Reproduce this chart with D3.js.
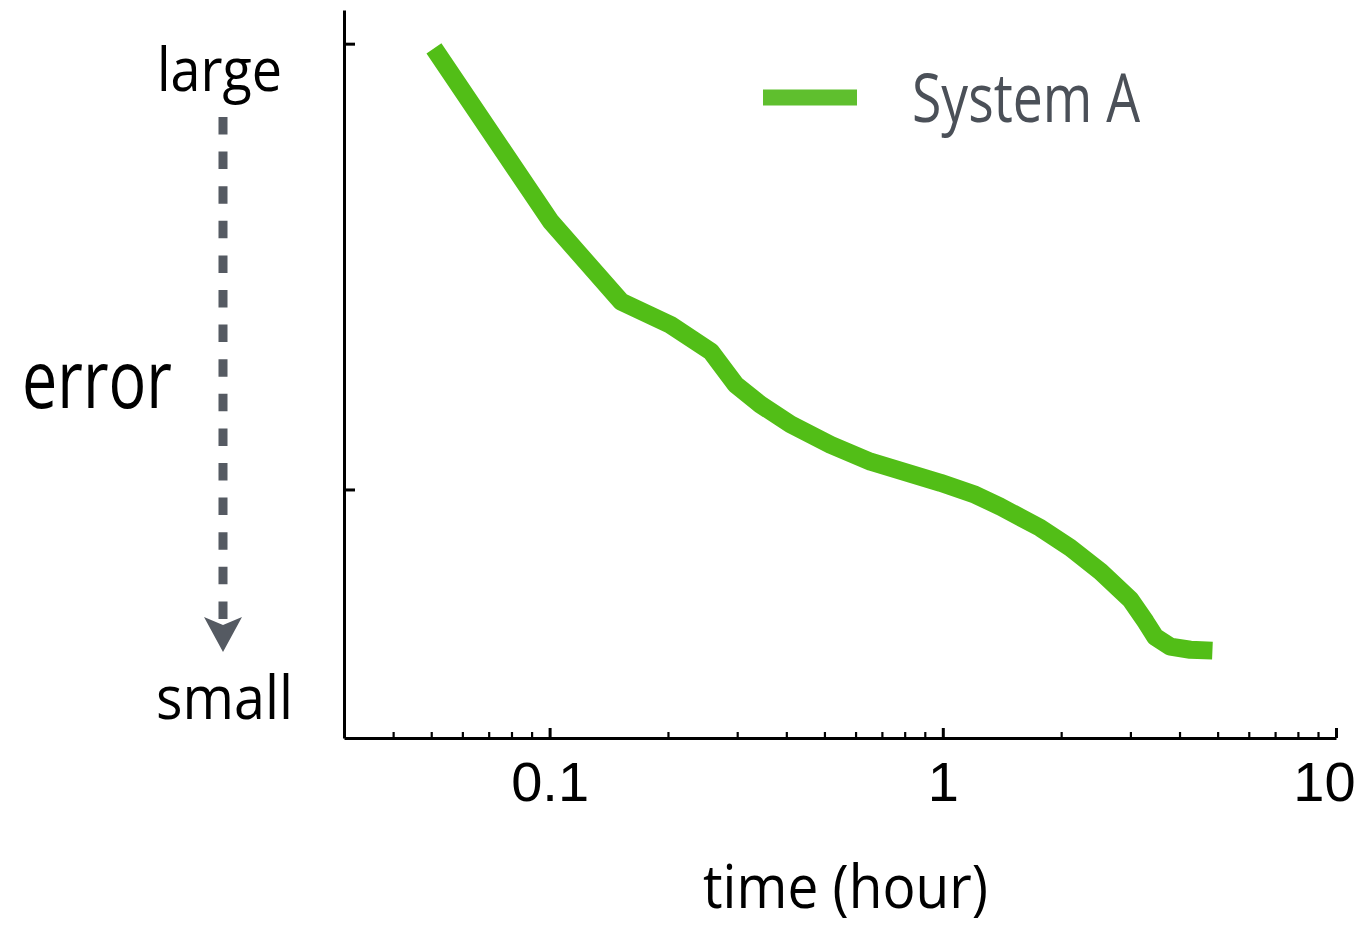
<!DOCTYPE html>
<html>
<head>
<meta charset="utf-8">
<script src="https://cdn.jsdelivr.net/npm/d3@7"></script>
<style>
    html, body { margin: 0; padding: 0; background: #fff; }
    svg { display: block; }
</style>
</head>
<body>
<div id="chart-container"></div>
<script>
// Data (time in hours, error on log scale)
const times = [0.0508, 0.1007, 0.152, 0.203, 0.257, 0.297, 0.344, 0.41, 0.518, 0.655, 0.987, 1.21, 1.40, 1.77, 2.11, 2.52, 3.00, 3.28, 3.47, 3.79, 4.26, 4.85];
const errors = [0.976, 0.399, 0.264, 0.234, 0.204, 0.172, 0.155, 0.140, 0.126, 0.1154, 0.1035, 0.0973, 0.0915, 0.082, 0.074, 0.0654, 0.0566, 0.0505, 0.0467, 0.0444, 0.0437, 0.0435];
const seriesName = "System A";
const xMajorTicks = [0.1, 1, 10];
const xTickLabels = ["0.1", "1", "10"];
const xMinorTicks = [0.04, 0.05, 0.06, 0.07, 0.08, 0.09, 0.2, 0.3, 0.4, 0.5, 0.6, 0.7, 0.8, 0.9, 2, 3, 4, 5, 6, 7, 8, 9];
const yTicks = [0.1, 1];

function drawChart() {
    const width = 1363;
    const height = 929;

    const svg = d3.select("#chart-container")
        .append("svg")
        .attr("width", width)
        .attr("height", height);

    // Scales - both log
    const x = d3.scaleLog().domain([0.03, 10]).range([344, 1336]);
    const y = d3.scaleLog().domain([0.0277, 1.19]).range([738, 10]);

    // Y axis: ticks pointing inward, no labels
    const yAxis = svg.append("g")
        .attr("transform", "translate(344,0)")
        .call(d3.axisRight(y).tickValues(yTicks).tickSize(11).tickSizeOuter(0).tickFormat(""));
    yAxis.selectAll("path, line").attr("stroke", "#000").attr("stroke-width", 3);

    // X axis minor ticks
    const xMinor = svg.append("g")
        .attr("transform", "translate(0,738)")
        .call(d3.axisBottom(x).tickValues(xMinorTicks).tickSizeInner(-6).tickSizeOuter(0).tickFormat(""));
    xMinor.selectAll("line").attr("stroke", "#000").attr("stroke-width", 2.2);
    xMinor.select(".domain").remove();

    // X axis major ticks + labels
    const xAxis = svg.append("g")
        .attr("transform", "translate(0,738)")
        .call(d3.axisBottom(x)
            .tickValues(xMajorTicks)
            .tickSizeInner(-10)
            .tickSizeOuter(0)
            .tickPadding(23)
            .tickFormat((d, i) => xTickLabels[i]));
    xAxis.selectAll("path, line").attr("stroke", "#000").attr("stroke-width", 3);
    xAxis.selectAll("text")
        .attr("fill", "#000")
        .style("font-family", "'Liberation Sans', Arial, sans-serif")
        .style("font-size", "56px");
    // last label is pulled in so it stays inside the picture
    xAxis.selectAll("text").filter((d, i) => i === xMajorTicks.length - 1)
        .attr("dx", -12);

    // The data line
    const line = d3.line()
        .x((d, i) => x(times[i]))
        .y(d => y(d))
        .curve(d3.curveLinear);

    svg.append("path")
        .datum(errors)
        .attr("d", line)
        .attr("fill", "none")
        .attr("stroke", "#52be17")
        .attr("stroke-width", 18)
        .attr("stroke-linejoin", "round")
        .attr("stroke-linecap", "butt");

    // Legend
    svg.append("line")
        .attr("x1", 763).attr("x2", 857)
        .attr("y1", 97.5).attr("y2", 97.5)
        .attr("stroke", "#5fbf2e")
        .attr("stroke-width", 16);

    svg.append("text")
        .attr("x", 912)
        .attr("y", 122)
        .attr("textLength", 228)
        .attr("lengthAdjust", "spacingAndGlyphs")
        .style("font-family", "'Open Sans', sans-serif")
        .style("font-size", "68px")
        .attr("fill", "#4b5058")
        .text(seriesName);

    // Left-side annotation: large -> small arrow
    const labelFont = "'Open Sans', sans-serif";
    svg.append("text")
        .attr("x", 157).attr("y", 91)
        .attr("textLength", 125).attr("lengthAdjust", "spacingAndGlyphs")
        .style("font-family", labelFont).style("font-size", "60px")
        .text("large");

    svg.append("text")
        .attr("x", 156).attr("y", 719)
        .attr("textLength", 137).attr("lengthAdjust", "spacingAndGlyphs")
        .style("font-family", labelFont).style("font-size", "60px")
        .text("small");

    svg.append("text")
        .attr("x", 22).attr("y", 408)
        .attr("textLength", 150).attr("lengthAdjust", "spacingAndGlyphs")
        .style("font-family", labelFont).style("font-size", "80px")
        .text("error");

    const arrowColor = "#555a62";
    svg.append("line")
        .attr("x1", 223).attr("x2", 223)
        .attr("y1", 117).attr("y2", 624)
        .attr("stroke", arrowColor)
        .attr("stroke-width", 9)
        .attr("stroke-dasharray", "17.5 17.1");

    svg.append("path")
        .attr("d", "M223,652 L204,617 L223,625 L242,617 Z")
        .attr("fill", arrowColor);

    // X axis title
    svg.append("text")
        .attr("x", 703).attr("y", 908)
        .attr("textLength", 285).attr("lengthAdjust", "spacingAndGlyphs")
        .style("font-family", labelFont).style("font-size", "60px")
        .text("time (hour)");
}

drawChart();
</script>
</body>
</html>
